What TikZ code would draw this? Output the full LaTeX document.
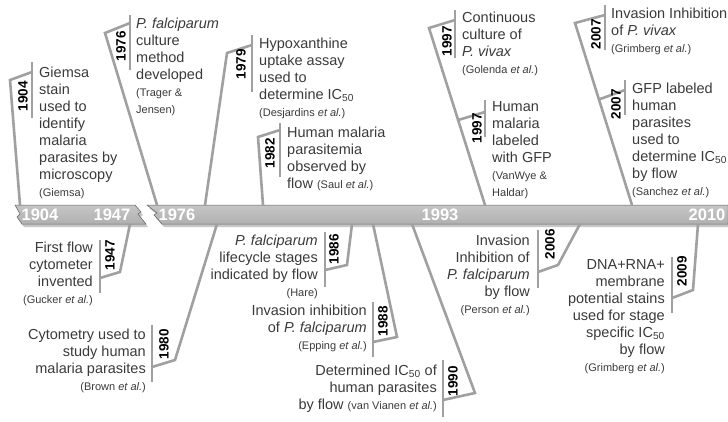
\documentclass[tikz,border=0pt]{standalone}
\usepackage{fontspec}
\setmainfont{Liberation Sans}
\usetikzlibrary{calc}
\definecolor{stemgray}{HTML}{A0A0A0}
\definecolor{txtgray}{HTML}{3A3A3A}
\newcommand{\etal}{\textit{et al.}}
\newcommand{\reffont}{\fontsize{11}{17}\selectfont}

\begin{document}
\begin{tikzpicture}[x=1pt,y=-1pt,
    stem/.style={draw=stemgray, line width=2.6pt},
    evt/.style={inner sep=0pt, text=txtgray, font=\fontsize{14.5}{17}\selectfont, yshift=10.5pt},
    evtl/.style={evt, anchor=north west, align=left},
    evtr/.style={evt, anchor=north east, align=right},
    yr/.style={inner sep=0pt, rotate=90, font=\bfseries\fontsize{13.5}{14}\selectfont},
    baryr/.style={inner sep=0pt, text=white, font=\bfseries\fontsize{16.5}{17}\selectfont},
    barfill/.style={top color=gray!45, middle color=gray!20, bottom color=gray!62, draw=gray!75!black, line width=.5pt}]
  \useasboundingbox (0,0) rectangle (728,421);

  % timeline bar, broken between 1947 and 1976
  \begin{scope}[shift={(2,3)}]
    \fill[black!55, opacity=.4] (15,205) -- (135,205) -- (141,212) -- (138,214) -- (146,224) -- (22,224) -- (17,217) -- (20,214) -- cycle;
    \fill[black!55, opacity=.4] (147,205) -- (726,205) -- (726,224) -- (162,224) -- (154,215) -- (157,213) -- cycle;
  \end{scope}
  \path[barfill] (15,205) -- (135,205) -- (141,212) -- (138,214) -- (146,224) -- (22,224) -- (17,217) -- (20,214) -- cycle;
  \path[barfill] (147,205) -- (728,205) -- (728,224) -- (162,224) -- (154,215) -- (157,213) -- cycle;
  \node[baryr] (b1904) at (40,215) {1904};
  \node[baryr] (b1947) at (112,215) {1947};
  \node[baryr] (b1976) at (177,215) {1976};
  \node[baryr] (b1993) at (440,215) {1993};
  \node[baryr] (b2010) at (707,215) {2010};

  % events above the bar
  \coordinate (giB) at (20,205);  \coordinate (giK) at (10,80);  \coordinate (giJ) at (32,72);
  \draw[stem] (giB) -- (giK) -- (giJ);
  \draw[stem] (32,62) -- (32,118);
  \node[yr] (y1904) at (23,96) {1904};
  \node[evtl] (giemsa) at (39,77) {Giemsa\\stain\\used to\\identify\\malaria\\parasites by\\microscopy\\{\reffont(Giemsa)}};

  \coordinate (trB) at (157,205); \coordinate (trK) at (105,33); \coordinate (trJ) at (130,23);
  \draw[stem] (trB) -- (trK) -- (trJ);
  \draw[stem] (130,15) -- (130,70);
  \node[yr] (y1976) at (121,46) {1976};
  \node[evtl] (trager) at (136,28) {\textit{P. falciparum}\\culture\\method\\developed\\{\reffont(Trager \&}\\{\reffont Jensen)}};

  \coordinate (deB) at (205,205); \coordinate (deK) at (227,53); \coordinate (deJ) at (252,45);
  \draw[stem] (deB) -- (deK) -- (deJ);
  \draw[stem] (252,35) -- (252,92);
  \node[yr] (y1979) at (241,64) {1979};
  \node[evtl] (desjardins) at (259,48) {Hypoxanthine\\uptake assay\\used to\\determine IC\textsubscript{50}\\{\reffont(Desjardins \etal)}};

  \coordinate (saB) at (263,205); \coordinate (saK) at (258,137); \coordinate (saJ) at (280,130);
  \draw[stem] (saB) -- (saK) -- (saJ);
  \draw[stem] (280,123) -- (280,177);
  \node[yr] (y1982) at (270,153) {1982};
  \node[evtl] (saul) at (287,137) {Human malaria\\parasitemia\\observed by\\flow {\reffont(Saul \etal)}};

  \coordinate (goB) at (485,205); \coordinate (goK) at (429,28); \coordinate (goJ) at (455,20);
  \draw[stem] (goB) -- (goK) -- (goJ);
  \draw[stem] (455,10) -- (455,58);
  \node[yr] (y1997a) at (447,41) {1997};
  \node[evtl] (golenda) at (462,22) {Continuous\\culture of\\\textit{P. vivax}\\{\reffont(Golenda \etal)}};

  \coordinate (vwK) at ($(goK)!0.52!(goB)$); \coordinate (vwJ) at (485,112);
  \draw[stem] (vwK) -- (vwJ);
  \draw[stem] (485,100) -- (485,137);
  \node[yr] (y1997b) at (477,128) {1997};
  \node[evtl] (vanwye) at (492,112) {Human\\malaria\\labeled\\with GFP\\{\reffont(VanWye \&}\\{\reffont Haldar)}};

  \coordinate (grB) at (632,205); \coordinate (grK) at (575,23); \coordinate (grJ) at (605,15);
  \draw[stem] (grB) -- (grK) -- (grJ);
  \draw[stem] (605,5) -- (605,50);
  \node[yr] (y2007a) at (596,34) {2007};
  \node[evtl] (grimvivax) at (611,18) {Invasion Inhibition\\of \textit{P. vivax}\\{\reffont(Grimberg \etal)}};

  \coordinate (snK) at ($(grK)!0.42!(grB)$); \coordinate (snJ) at (625,90);
  \draw[stem] (snK) -- (snJ);
  \draw[stem] (625,80) -- (625,115);
  \node[yr] (y2007b) at (616,104) {2007};
  \node[evtl] (sanchez) at (632,93) {GFP labeled\\human\\parasites\\used to\\determine IC\textsubscript{50}\\by flow\\{\reffont(Sanchez \etal)}};

  % events below the bar
  \coordinate (guB) at (130,224); \coordinate (guK) at (120,272); \coordinate (guJ) at (100,278);
  \draw[stem] (guB) -- (guK) -- (guJ);
  \draw[stem] (100,240) -- (100,293);
  \node[yr] (y1947) at (110,255) {1947};
  \node[evtr] (gucker) at (93,252) {First flow\\cytometer\\invented\\{\reffont(Gucker \etal)}};

  \coordinate (brB) at (217,224); \coordinate (brK) at (175,360); \coordinate (brJ) at (152,367);
  \draw[stem] (brB) -- (brK) -- (brJ);
  \draw[stem] (152,325) -- (152,382);
  \node[yr] (y1980) at (164,344) {1980};
  \node[evtr] (brown) at (146,339) {Cytometry used to\\study human\\malaria parasites\\{\reffont(Brown \etal)}};

  \coordinate (haB) at (352,224); \coordinate (haK) at (347,265); \coordinate (haJ) at (325,270);
  \draw[stem] (haB) -- (haK) -- (haJ);
  \draw[stem] (325,232) -- (325,287);
  \node[yr] (y1986) at (334,249) {1986};
  \node[evtr] (hare) at (318,245) {\textit{P. falciparum}\\lifecycle stages\\indicated by flow\\{\reffont(Hare)}};

  \coordinate (epB) at (373,224); \coordinate (epK) at (397,337); \coordinate (epJ) at (373,342);
  \draw[stem] (epB) -- (epK) -- (epJ);
  \draw[stem] (373,302) -- (373,357);
  \node[yr] (y1988) at (383,321) {1988};
  \node[evtr] (epping) at (367,315) {Invasion inhibition\\of \textit{P. falciparum}\\{\reffont(Epping \etal)}};

  \coordinate (viB) at (412,224); \coordinate (viK) at (475,393); \coordinate (viJ) at (443,400);
  \draw[stem] (viB) -- (viK) -- (viJ);
  \draw[stem] (443,360) -- (443,417);
  \node[yr] (y1990) at (453,381) {1990};
  \node[evtr] (vianen) at (437,375) {Determined IC\textsubscript{50} of\\human parasites\\by flow {\reffont(van Vianen \etal)}};

  \coordinate (peB) at (580,224); \coordinate (peK) at (558,265); \coordinate (peJ) at (538,272);
  \draw[stem] (peB) -- (peK) -- (peJ);
  \draw[stem] (538,230) -- (538,288);
  \node[yr] (y2006) at (550,244) {2006};
  \node[evtr] (person) at (530,245) {Invasion\\Inhibition of\\\textit{P. falciparum}\\by flow\\{\reffont(Person \etal)}};

  \coordinate (gsB) at (698,224); \coordinate (gsK) at (693,290); \coordinate (gsJ) at (672,298);
  \draw[stem] (gsB) -- (gsK) -- (gsJ);
  \draw[stem] (672,257) -- (672,313);
  \node[yr] (y2009) at (682,271) {2009};
  \node[evtr] (grimstage) at (665,270) {DNA+RNA+\\membrane\\potential stains\\used for stage\\specific IC\textsubscript{50}\\by flow\\{\reffont(Grimberg \etal)}};
\end{tikzpicture}
\end{document}
